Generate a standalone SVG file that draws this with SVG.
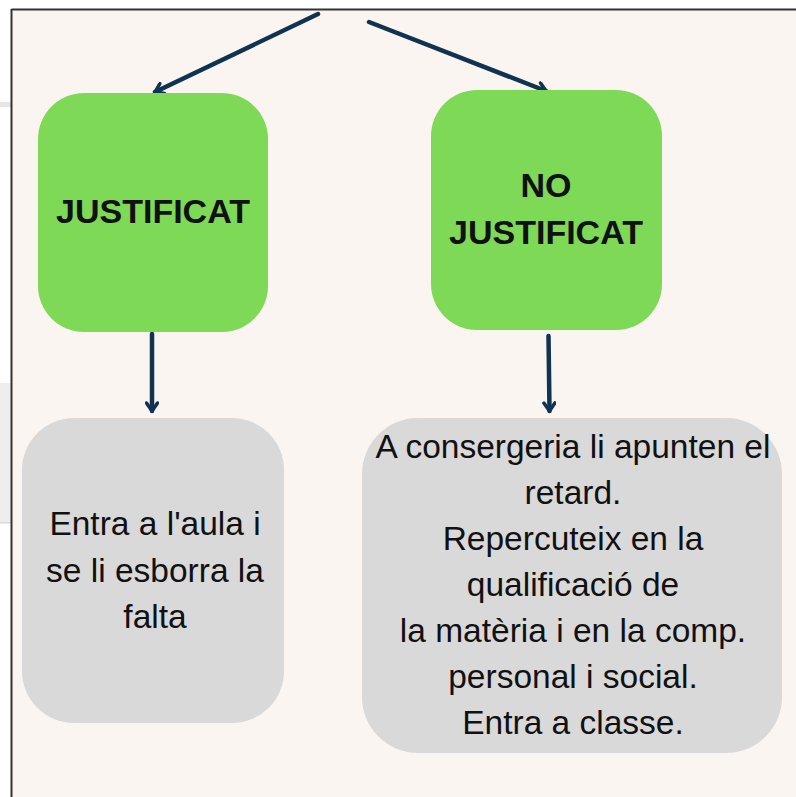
<svg xmlns="http://www.w3.org/2000/svg" width="796" height="797" viewBox="0 0 796 797">
<style>
.bg{fill:#faf5f0}
.green{fill:#7ed957}
.gray{fill:#d9d9d9}
.conn{stroke:#0f3350;stroke-width:4.5;fill:none;stroke-linecap:round}
.bold{font-family:"Liberation Sans",Arial,sans-serif;font-weight:bold;font-size:34px;fill:#111;text-anchor:middle}
.reg{font-family:"Liberation Sans",Arial,sans-serif;font-size:33.5px;fill:#111;text-anchor:middle}
</style>
<defs>
<marker id="arr" viewBox="0 0 14 14" refX="12" refY="7" markerWidth="14" markerHeight="14" markerUnits="userSpaceOnUse" orient="auto">
<path d="M4,1.5 L12,7 L4,12.5" fill="none" stroke="#0f3350" stroke-width="3.5" stroke-linecap="round" stroke-linejoin="round"/>
</marker>
</defs>
<rect x="0" y="0" width="796" height="797" fill="#ffffff"/>
<rect x="0" y="102" width="11" height="5" fill="#e6e6e6"/>
<rect x="0" y="383" width="11" height="140" fill="#eeeeee"/>
<rect x="0" y="522" width="11" height="1.5" fill="#d8d8d8"/>
<rect class="bg" x="11" y="9" width="785" height="788"/>
<line x1="11.5" y1="9.5" x2="796" y2="9.5" stroke="#333" stroke-width="2"/>
<line x1="11.5" y1="9" x2="11.5" y2="797" stroke="#333" stroke-width="2"/>
<g id="connectors">
<line class="conn" x1="318" y1="14" x2="155" y2="92" marker-end="url(#arr)"/>
<line class="conn" x1="369" y1="22" x2="546" y2="91" marker-end="url(#arr)"/>
<line class="conn" x1="152" y1="334" x2="152" y2="411" marker-end="url(#arr)"/>
<line class="conn" x1="548.5" y1="336" x2="549.5" y2="411" marker-end="url(#arr)"/>
</g>
<g id="justificat">
<rect class="green" x="38" y="93" width="230" height="239" rx="46" ry="46"/>
<text class="bold" x="153" y="223">JUSTIFICAT</text>
</g>
<g id="no-justificat">
<rect class="green" x="431" y="90" width="231" height="240" rx="46" ry="46"/>
<text class="bold" x="546" y="197">NO</text>
<text class="bold" x="546" y="244">JUSTIFICAT</text>
</g>
<g id="entra-aula">
<rect class="gray" x="22" y="418" width="262" height="305" rx="52" ry="52"/>
<text class="reg" x="155" y="535">Entra a l'aula i</text>
<text class="reg" x="155" y="582">se li esborra la</text>
<text class="reg" x="155" y="628">falta</text>
</g>
<g id="consergeria">
<rect class="gray" x="362" y="418" width="420" height="335" rx="56" ry="56"/>
<text class="reg" x="573" y="458">A consergeria li apunten el</text>
<text class="reg" x="573" y="504">retard.</text>
<text class="reg" x="573" y="550">Repercuteix en la</text>
<text class="reg" x="573" y="596">qualificació de</text>
<text class="reg" x="573" y="642">la matèria i en la comp.</text>
<text class="reg" x="573" y="688">personal i social.</text>
<text class="reg" x="573" y="734">Entra a classe.</text>
</g>
</svg>
